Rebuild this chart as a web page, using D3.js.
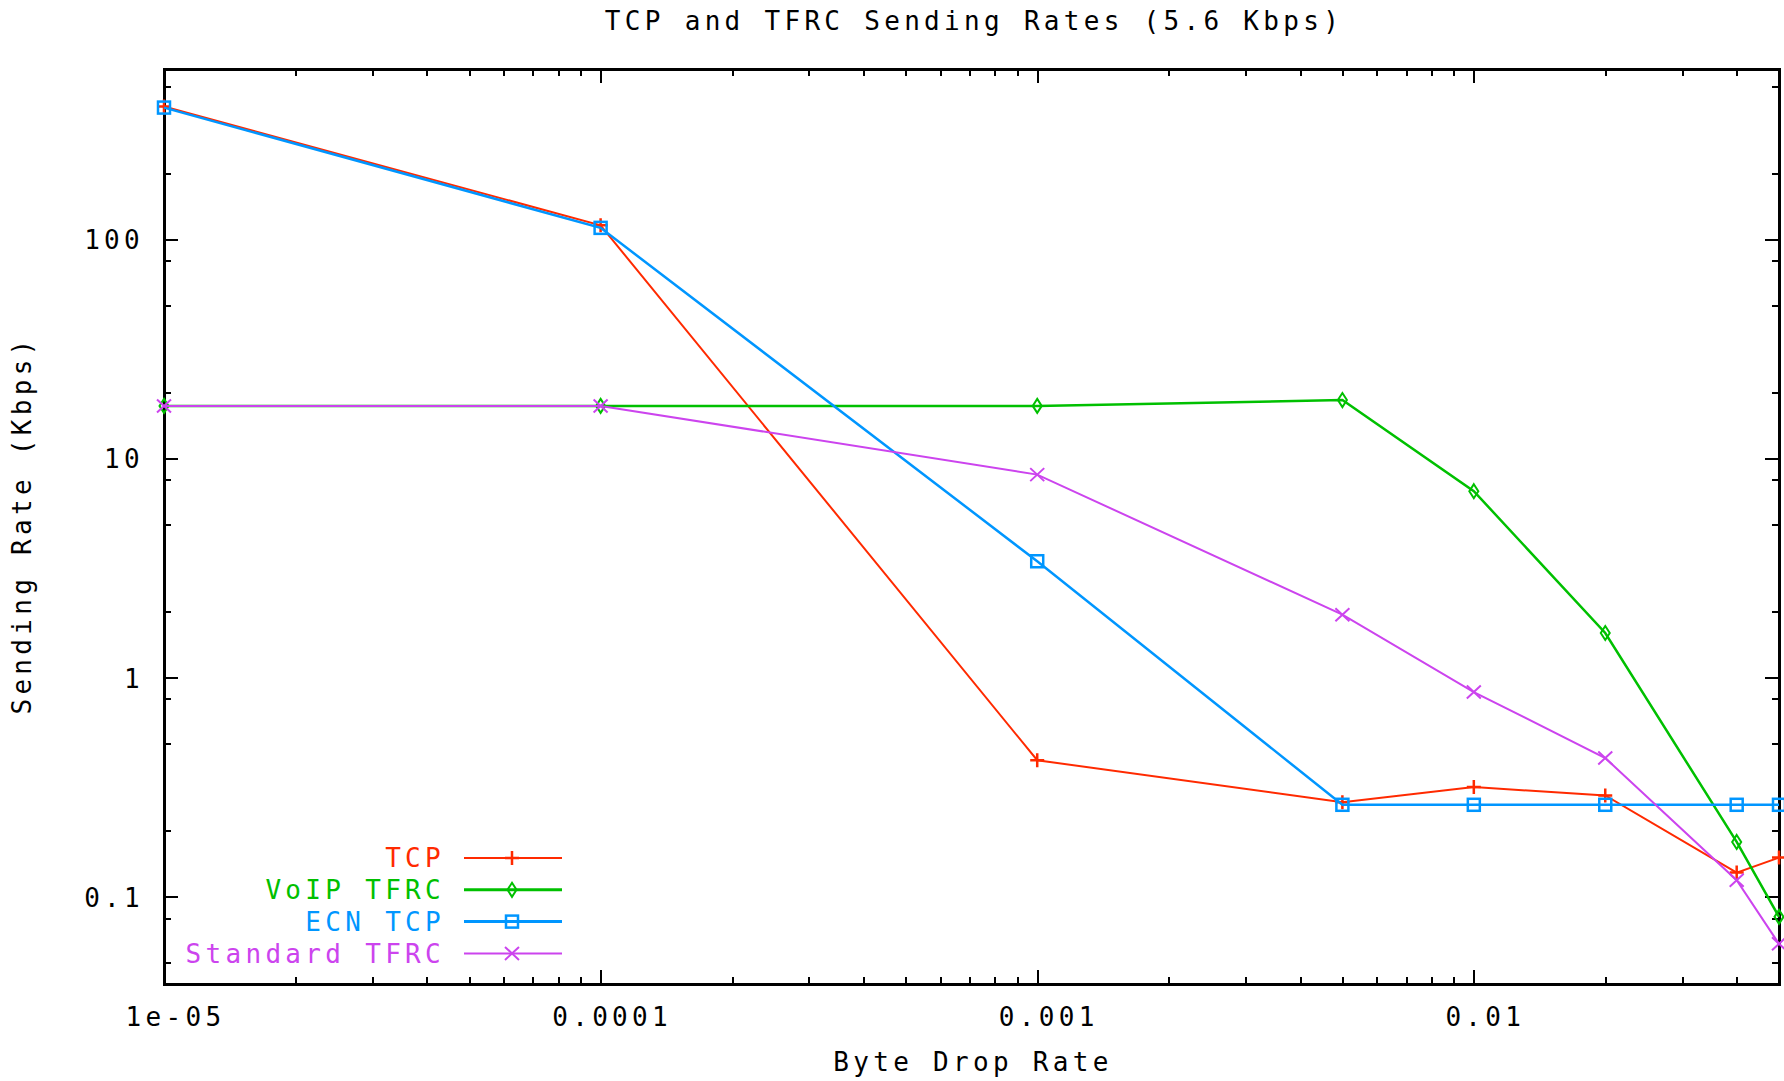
<!DOCTYPE html>
<html>
<head>
<meta charset="utf-8">
<script src="https://cdn.jsdelivr.net/npm/d3@7"></script>
<style>
  body { margin: 0; background: #fff; }
  text { font-family: "DejaVu Sans Mono", "Liberation Mono", monospace; font-size: 26px; letter-spacing: 4.3px; }
</style>
</head>
<body>
<div id="chart"></div>
<script>
// 数据
const dropRates = [1e-5, 1e-4, 1e-3, 5e-3, 1e-2, 2e-2, 4e-2, 5e-2];
const tcpRates = [405, 116, 0.42, 0.27, 0.317, 0.29, 0.129, 0.151];
const voipTfrcRates = [17.4, 17.4, 17.4, 18.5, 7.1, 1.6, 0.178, 0.081];
const ecnTcpRates = [400, 113, 3.4, 0.263, 0.263, 0.263, 0.263, 0.263];
const stdTfrcRates = [17.4, 17.4, 8.45, 1.94, 0.86, 0.43, 0.119, 0.061];

const seriesNames = ["TCP", "VoIP TFRC", "ECN TCP", "Standard TFRC"];
const seriesValues = [tcpRates, voipTfrcRates, ecnTcpRates, stdTfrcRates];
const seriesColors = ["#ff2a00", "#00c000", "#0096ff", "#cc44ee"];
const seriesWidths = [2, 2.5, 2.5, 2];
const legendWidths = [2, 3, 3, 2];
const seriesMarkers = ["plus", "diamond", "square", "cross"];

const xMajorTicks = [1e-5, 1e-4, 1e-3, 1e-2];
const xTickLabels = ["1e-05", "0.0001", "0.001", "0.01"];
const yMajorTicks = [0.1, 1, 10, 100];
const yTickLabels = ["0.1", "1", "10", "100"];

const width = 1784, height = 1081;
const plotLeft = 164, plotRight = 1779, plotTop = 69, plotBottom = 984;

const svg = d3.select("#chart").append("svg")
    .attr("width", width)
    .attr("height", height);

const x = d3.scaleLog().domain([1e-5, 0.05]).range([plotLeft, plotRight]);
const y = d3.scaleLog().domain([0.04, 600]).range([plotBottom, plotTop]);

// 次刻度
const xMinor = [];
[1e-5, 1e-4, 1e-3, 1e-2].forEach(d => {
    for (let k = 2; k <= 9; k++) {
        const v = d * k;
        if (v < 0.05 * 0.999) xMinor.push(v);
    }
});
const yMinor = [];
[0.01, 0.1, 1, 10, 100].forEach(d => {
    [2, 5, 8].forEach(k => {
        const v = d * k;
        if (v > 0.04 && v < 600) yMinor.push(v);
    });
});

function styleAxis(g) {
    g.select(".domain").remove();
    g.selectAll("line").attr("stroke", "#000").attr("stroke-width", 2)
        .attr("shape-rendering", "crispEdges");
}

// 底部和顶部刻度
svg.append("g").attr("transform", `translate(0,${plotBottom})`)
    .call(d3.axisBottom(x).tickValues(xMinor).tickSize(-7).tickFormat(""))
    .call(styleAxis);
svg.append("g").attr("transform", `translate(0,${plotTop})`)
    .call(d3.axisTop(x).tickValues(xMinor).tickSize(-7).tickFormat(""))
    .call(styleAxis);
svg.append("g").attr("transform", `translate(0,${plotTop})`)
    .call(d3.axisTop(x).tickValues(xMajorTicks).tickSize(-14).tickFormat(""))
    .call(styleAxis);
const xAxis = svg.append("g").attr("transform", `translate(0,${plotBottom})`)
    .call(d3.axisBottom(x).tickValues(xMajorTicks).tickSize(-14)
        .tickFormat((d, i) => xTickLabels[i]))
    .call(styleAxis);
xAxis.selectAll("text")
    .attr("y", 42).attr("dy", null).attr("dx", 11)
    .attr("fill", "#000")
    .style("font-size", "26px")
    .style("font-family", null);
xAxis.attr("font-family", null).attr("font-size", null);

// 左右刻度
svg.append("g").attr("transform", `translate(${plotLeft},0)`)
    .call(d3.axisLeft(y).tickValues(yMinor).tickSize(-7).tickFormat(""))
    .call(styleAxis);
svg.append("g").attr("transform", `translate(${plotRight},0)`)
    .call(d3.axisRight(y).tickValues(yMinor).tickSize(-7).tickFormat(""))
    .call(styleAxis);
svg.append("g").attr("transform", `translate(${plotRight},0)`)
    .call(d3.axisRight(y).tickValues(yMajorTicks).tickSize(-14).tickFormat(""))
    .call(styleAxis);
const yAxis = svg.append("g").attr("transform", `translate(${plotLeft},0)`)
    .call(d3.axisLeft(y).tickValues(yMajorTicks).tickSize(-14)
        .tickFormat((d, i) => yTickLabels[i]))
    .call(styleAxis);
yAxis.selectAll("text")
    .attr("x", -20).attr("dy", "0.36em")
    .attr("fill", "#000")
    .style("font-size", "26px")
    .style("font-family", null);
yAxis.attr("font-family", null).attr("font-size", null);

// 边框
svg.append("rect")
    .attr("x", plotLeft).attr("y", plotTop)
    .attr("width", plotRight - plotLeft).attr("height", plotBottom - plotTop)
    .attr("fill", "none").attr("stroke", "#000").attr("stroke-width", 3)
    .attr("shape-rendering", "crispEdges");

// 标记
function drawMarker(g, type, cx, cy, color) {
    if (type === "plus") {
        g.append("path").attr("d", `M${cx - 7},${cy}H${cx + 7}M${cx},${cy - 7}V${cy + 7}`)
            .attr("stroke", color).attr("stroke-width", 2.5).attr("fill", "none");
    } else if (type === "diamond") {
        g.append("path").attr("d", `M${cx},${cy - 7}L${cx + 4.5},${cy}L${cx},${cy + 7}L${cx - 4.5},${cy}Z`)
            .attr("stroke", color).attr("stroke-width", 2).attr("fill", "none");
    } else if (type === "square") {
        g.append("rect").attr("x", cx - 6).attr("y", cy - 6)
            .attr("width", 12).attr("height", 12)
            .attr("stroke", color).attr("stroke-width", 2.5).attr("fill", "none");
    } else {
        g.append("path").attr("d", `M${cx - 7},${cy - 6.5}L${cx + 7},${cy + 6.5}M${cx + 7},${cy - 6.5}L${cx - 7},${cy + 6.5}`)
            .attr("stroke", color).attr("stroke-width", 2).attr("fill", "none");
    }
}

// 曲线
const line = d3.line()
    .x(d => x(d[0]))
    .y(d => y(d[1]));

seriesValues.forEach((vals, s) => {
    const pts = dropRates.map((r, i) => [r, vals[i]]);
    const g = svg.append("g");
    g.append("path")
        .datum(pts)
        .attr("d", line)
        .attr("fill", "none")
        .attr("stroke", seriesColors[s])
        .attr("stroke-width", seriesWidths[s]);
    pts.forEach(p => drawMarker(g, seriesMarkers[s], x(p[0]), y(p[1]), seriesColors[s]));
});

// 图例
seriesNames.forEach((name, i) => {
    const cy = 858 + i * 31.8;
    svg.append("text")
        .attr("x", 445).attr("y", cy).attr("dy", "0.36em")
        .attr("text-anchor", "end")
        .attr("fill", seriesColors[i])
        .text(name);
    svg.append("line")
        .attr("x1", 464).attr("x2", 562)
        .attr("y1", cy).attr("y2", cy)
        .attr("stroke", seriesColors[i])
        .attr("stroke-width", legendWidths[i]);
    drawMarker(svg, seriesMarkers[i], 512, cy, seriesColors[i]);
});

// 标题和坐标轴标签
svg.append("text")
    .attr("x", 974).attr("y", 30)
    .attr("text-anchor", "middle")
    .text("TCP and TFRC Sending Rates (5.6 Kbps)");

svg.append("text")
    .attr("x", 973).attr("y", 1071)
    .attr("text-anchor", "middle")
    .text("Byte Drop Rate");

svg.append("text")
    .attr("transform", "translate(31,525) rotate(-90)")
    .attr("text-anchor", "middle")
    .text("Sending Rate (Kbps)");
</script>
</body>
</html>
